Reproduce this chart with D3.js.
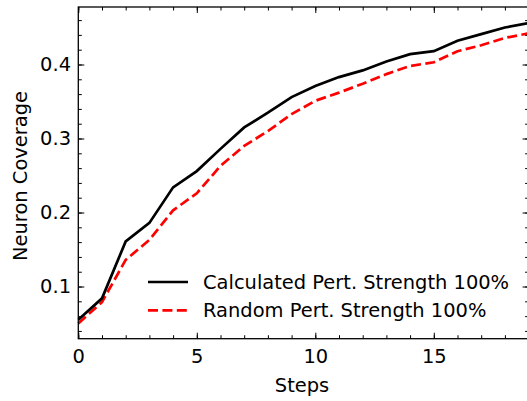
<!DOCTYPE html>
<html>
<head>
<meta charset="utf-8">
<script src="https://cdn.jsdelivr.net/npm/d3@7"></script>
<style>
  body { margin: 0; background: #fff; }
  text { font-family: "DejaVu Sans", sans-serif; fill: #000; }
</style>
</head>
<body>
<svg id="chart"></svg>
<script>
// data
const steps = d3.range(0, 20);
const calculated = [0.055, 0.084, 0.161, 0.186, 0.234, 0.256, 0.286, 0.315, 0.335, 0.356,
                    0.371, 0.383, 0.392, 0.404, 0.414, 0.418, 0.432, 0.441, 0.450, 0.456];
const random = [0.050, 0.079, 0.136, 0.163, 0.203, 0.226, 0.263, 0.290, 0.310, 0.333,
                0.351, 0.362, 0.374, 0.387, 0.398, 0.403, 0.418, 0.426, 0.436, 0.442];
const seriesNames = ['Calculated Pert. Strength 100%', 'Random Pert. Strength 100%'];
const xTicks = [0, 5, 10, 15];
const yTicks = [0.1, 0.2, 0.3, 0.4];

const config = {
  width: 527, height: 401,
  margin: { top: 7, left: 78.3 },
  plotW: 450.3, plotH: 331.7
};

const svg = d3.select('#chart')
  .attr('width', config.width)
  .attr('height', config.height);

const chart = svg.append('g')
  .attr('transform', `translate(${config.margin.left},${config.margin.top})`);

const xScale = d3.scaleLinear().domain([0, 19]).range([0, config.plotW]);
const yScale = d3.scaleLinear().domain([0.0295, 0.4777]).range([config.plotH, 0]);

const fontSize = 19.44; // 14pt at 100 dpi
const lineW = 2.7;
const dash = '10,4.4';

// minor + major ticks on all four sides, pointing inward
const xMinor = d3.range(0, 20);
const yMinor = d3.range(0.04, 0.48, 0.02).filter(v => v <= 0.4777);

function tickSide(axisFn, scale, values, len, transform) {
  const g = chart.append('g').attr('transform', transform)
    .call(axisFn(scale).tickValues(values).tickSize(-len).tickFormat('').tickSizeOuter(0));
  g.select('.domain').remove();
  g.selectAll('.tick line').attr('stroke', '#000').attr('stroke-width', 1);
  return g;
}

tickSide(d3.axisBottom, xScale, xMinor, 3.5, `translate(0,${config.plotH})`);
tickSide(d3.axisBottom, xScale, xTicks, 6, `translate(0,${config.plotH})`);
tickSide(d3.axisTop, xScale, xMinor, 3.5, 'translate(0,0)');
tickSide(d3.axisTop, xScale, xTicks, 6, 'translate(0,0)');
tickSide(d3.axisLeft, yScale, yMinor, 3.5, 'translate(0,0)');
tickSide(d3.axisLeft, yScale, yTicks, 6, 'translate(0,0)');
tickSide(d3.axisRight, yScale, yMinor, 3.5, `translate(${config.plotW},0)`);
tickSide(d3.axisRight, yScale, yTicks, 6, `translate(${config.plotW},0)`);

// tick labels
const xLab = chart.append('g')
  .attr('transform', `translate(0,${config.plotH})`)
  .call(d3.axisBottom(xScale).tickValues(xTicks).tickSize(0).tickPadding(10.6).tickFormat(d3.format('d')));
xLab.select('.domain').remove();
xLab.selectAll('text').style('font-size', fontSize + 'px').attr('font-family', 'DejaVu Sans');

const yLab = chart.append('g')
  .call(d3.axisLeft(yScale).tickValues(yTicks).tickSize(0).tickPadding(7.3).tickFormat(d3.format('.1f')));
yLab.select('.domain').remove();
yLab.selectAll('text').style('font-size', fontSize + 'px').attr('font-family', 'DejaVu Sans');

// lines
const line = d3.line()
  .x((d, i) => xScale(steps[i]))
  .y(d => yScale(d));

chart.append('path')
  .datum(random)
  .attr('fill', 'none')
  .attr('stroke', '#ff0000')
  .attr('stroke-width', lineW)
  .attr('stroke-dasharray', dash)
  .attr('d', line);

chart.append('path')
  .datum(calculated)
  .attr('fill', 'none')
  .attr('stroke', '#000')
  .attr('stroke-width', lineW)
  .attr('d', line);

// frame
chart.append('rect')
  .attr('width', config.plotW)
  .attr('height', config.plotH)
  .attr('fill', 'none')
  .attr('stroke', '#000')
  .attr('stroke-width', 1.3);

// axis titles
svg.append('text')
  .attr('x', 302)
  .attr('y', 391.5)
  .attr('text-anchor', 'middle')
  .style('font-size', fontSize + 'px')
  .text('Steps');

svg.append('text')
  .attr('transform', 'translate(26.7,176) rotate(-90)')
  .attr('text-anchor', 'middle')
  .style('font-size', fontSize + 'px')
  .text('Neuron Coverage');

// legend
const legend = svg.append('g').attr('transform', 'translate(148,282)');
const styles = [{ stroke: '#000', dash: null }, { stroke: '#ff0000', dash: dash }];
seriesNames.forEach((name, i) => {
  const row = legend.append('g').attr('transform', `translate(0,${i * 28.3})`);
  row.append('line')
    .attr('x1', 0).attr('x2', 40)
    .attr('stroke', styles[i].stroke)
    .attr('stroke-width', lineW)
    .attr('stroke-dasharray', styles[i].dash);
  row.append('text')
    .attr('x', 55)
    .attr('dy', '0.35em')
    .style('font-size', fontSize + 'px')
    .text(name);
});
</script>
</body>
</html>
